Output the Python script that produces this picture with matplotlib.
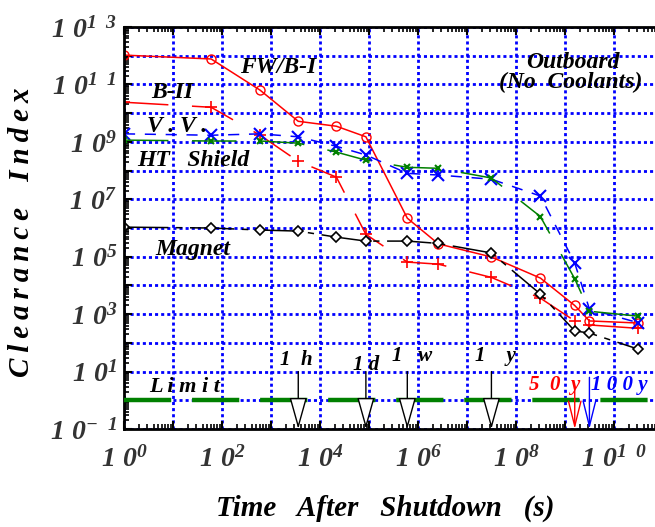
import numpy as np
import matplotlib
matplotlib.use('Agg')
import matplotlib.pyplot as plt
from matplotlib.ticker import LogLocator, NullFormatter, FixedLocator

plt.rcParams['font.family'] = ['Liberation Serif', 'DejaVu Serif']
plt.rcParams['mathtext.fontset'] = 'custom'
plt.rcParams['mathtext.rm'] = 'Liberation Serif:bold:italic'
plt.rcParams['mathtext.it'] = 'Liberation Serif:bold:italic'
plt.rcParams['mathtext.bf'] = 'Liberation Serif:bold:italic'
plt.rcParams['lines.scale_dashes'] = False

# === Dados ===
times = [1, 60, 600, 3600, 21600, 86400, 604800, 2.6e6, 3.15e7, 3.15e8, 1.58e9, 3.15e9, 3.15e10]

fw_b1 = [1.05e12, 7.7e11, 6.3e10, 5.2e9, 3.5e9, 1.5e9, 2.2e6, 2.8e5, 9.8e4, 1.8e4, 2.0e3, 5.8e2, 4.9e2]
b2 = [2.4e10, 1.6e10, 1.7e9, 2.1e8, 5.9e7, 6.0e5, 6.5e4, 5.5e4, 1.9e4, 3.6e3, 5.8e2, 4.2e2, 3.2e2]
vv = [1.9e9, 1.7e9, 1.9e9, 1.5e9, 7e8, 3.5e8, 8e7, 7e7, 5e7, 1.3e7, 6e4, 1.5e3, 5e2]
ht_shield = [1.15e9, 1.07e9, 1.07e9, 9e8, 4.4e8, 2.3e8, 1.3e8, 1.2e8, 5.5e7, 2.5e6, 1.7e4, 1.26e3, 8.5e2]
magnet = [1.07e6, 1.0e6, 8.5e5, 7.8e5, 4.8e5, 3.5e5, 3.5e5, 2.9e5, 1.35e5, 5e3, 2.6e2, 2.2e2, 6e1]

limit = 1.0

# marcas de tempo: (tempo, topo da seta, cor)
marks = [(3600, 10, 'black'), (86400, 10, 'black'), (604800, 10, 'black'), (3.15e7, 10, 'black')]
marks_open = [(1.58e9, 2.6, 'red'), (3.15e9, 6.3, 'blue')]

x_ticks = [10.0 ** k for k in range(0, 11)]
x_labels = [r'$1\ 0^{%d}$' % k if k % 2 == 0 else '' for k in range(0, 11)]
x_labels[10] = r'$1\ 0^{1\ \ 0}$'
y_ticks = [10.0 ** k for k in range(-1, 14)]
y_labels = [r'$1\ 0^{%d}$' % k if k % 2 == 1 else '' for k in range(-1, 14)]
y_labels[0] = r'$1\ 0^{-\ \ 1}$'
y_labels[12] = r'$1\ 0^{1\ \ 1}$'
y_labels[14] = r'$1\ 0^{1\ \ 3}$'

# === Figura ===
fig = plt.figure(figsize=(6.55, 5.27), dpi=100)
ax = fig.add_axes([124 / 655, 98 / 527, 539 / 655, 402 / 527])
ax.set_xscale('log')
ax.set_yscale('log')
ax.set_xlim(1, 1e11)
ax.set_ylim(1e-1, 1e13)

ax.plot(times, fw_b1, color='red', lw=1.1, marker='o', ms=6.5, mfc='none', mec='red', mew=1)
ax.plot(times, b2, color='red', lw=1.1, dashes=(32, 17), marker='+', ms=9, mew=1.2)
ax.plot(times, vv, color='blue', lw=1.1, dashes=(8, 7), marker='x', ms=8, mew=1.5)
ax.plot(times, ht_shield, color='green', lw=1.1, dashes=(32, 17), marker='x', ms=4, mew=1.5)
ax.plot(times, magnet, color='black', lw=1.1, dashes=(32, 5.5, 4.5, 5.5), marker='D', ms=5.5,
        mfc='white', mec='black', mew=1.2)

ax.axhline(limit, color='green', lw=3.2, dashes=(34, 15), zorder=3)

for t, top, c in marks:
    ax.annotate('', xy=(t, 0.1), xytext=(t, top),
                arrowprops=dict(arrowstyle='-|>,head_length=1.0,head_width=0.28', mutation_scale=20,
                                fc='white', ec=c, lw=1, shrinkA=0, shrinkB=0), zorder=5)
for t, top, c in marks_open:
    ax.annotate('', xy=(t, 0.1), xytext=(t, top),
                arrowprops=dict(arrowstyle='->,head_length=1.0,head_width=0.25', mutation_scale=18,
                                color=c, lw=1, shrinkA=0, shrinkB=0), zorder=5)


def label(x, y, s, size=17, **kw):
    fig.text(x / 655, 1 - y / 527, s, fontsize=size, fontweight='bold', fontstyle='italic',
             ha='center', va='center', **kw)


label(296, 360, '1  h', 15)
label(366, 365, '1 d', 15)
label(412, 356, '1   w', 15)
label(495, 356, '1    y', 15)
label(555, 385, '5  0  y', 15, color='red')
label(619, 385, '1 0 0 y', 15, color='blue')

label(185, 387, 'L i m i t', 16)
label(278, 67, 'FW/B-I')
label(172, 92, 'B-II')
label(177, 127, 'V . V .')
label(193, 160, 'HT   Shield')
label(193, 250, 'Magnet')
label(573, 62, 'Outboard')
label(571, 82, '(No  Coolants)')

# Eixos / grade
ax.xaxis.set_major_locator(FixedLocator(x_ticks))
ax.yaxis.set_major_locator(FixedLocator(y_ticks))
ax.set_xticklabels(x_labels)
ax.set_yticklabels(y_labels)
ax.xaxis.set_minor_locator(LogLocator(base=10, subs=np.arange(2, 10), numticks=20))
ax.yaxis.set_minor_locator(LogLocator(base=10, subs=np.arange(2, 10), numticks=20))
ax.xaxis.set_minor_formatter(NullFormatter())
ax.yaxis.set_minor_formatter(NullFormatter())
ax.tick_params(which='major', direction='in', length=6, width=1.5, top=True, right=False,
               labelsize=20, labelcolor='#333333')
ax.tick_params(which='minor', direction='in', length=3.5, width=1.2, top=True, right=False)
ax.tick_params(axis='x', which='major', pad=12)
ax.tick_params(axis='y', which='major', pad=5)

ax.grid(True, which='major', color='blue', lw=2, dashes=(2.2, 2.2), zorder=0)
for s in ['left', 'top', 'bottom']:
    ax.spines[s].set_linewidth(2)
ax.spines['right'].set_visible(False)

label(385, 508, 'Time   After   Shutdown   (s)', 21)
label(22, 232, '\u2009'.join('Clearance') + '\u2009  \u2009' + '\u2009'.join('Index'), 21, rotation=90)

plt.savefig('out.png', dpi=100)
